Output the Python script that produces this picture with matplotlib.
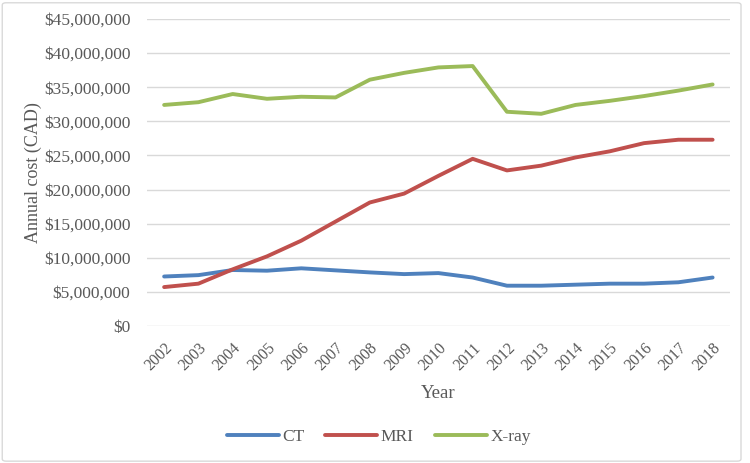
import matplotlib
matplotlib.use("Agg")
from matplotlib import pyplot as plt
from matplotlib.patches import FancyBboxPatch
from matplotlib.ticker import FuncFormatter, MultipleLocator

years = list(range(2002, 2019))
ct = [7.25, 7.45, 8.2, 8.1, 8.45, 8.15, 7.85, 7.6, 7.75, 7.1,
      5.9, 5.9, 6.05, 6.2, 6.2, 6.4, 7.1]
mri = [5.7, 6.2, 8.3, 10.2, 12.5, 15.3, 18.1, 19.4, 22.0, 24.5,
       22.8, 23.5, 24.7, 25.6, 26.8, 27.3, 27.3]
xray = [32.4, 32.8, 34.0, 33.3, 33.6, 33.5, 36.1, 37.1, 37.9, 38.1,
        31.4, 31.1, 32.4, 33.0, 33.7, 34.5, 35.4]
labels = ["CT", "MRI", "X-ray"]
colors = ["#4F81BD", "#C0504D", "#9BBB59"]

text_color = "#595959"
plt.rcParams["font.family"] = ["Liberation Serif", "DejaVu Serif"]

fig = plt.figure(figsize=(7.5, 4.63), dpi=100)
ax = fig.add_axes([0.196, 0.296, 0.777, 0.663])

x = range(len(years))
for series, name, c in zip([ct, mri, xray], labels, colors):
    ax.plot(x, [v * 1e6 for v in series], color=c, lw=2.8, label=name,
            solid_capstyle="round")

ax.set_xlim(-0.5, len(years) - 0.5)
ax.set_ylim(0, 45e6)
ax.yaxis.set_major_locator(MultipleLocator(5e6))
ax.yaxis.set_major_formatter(FuncFormatter(lambda v, p: f"${v:,.0f}"))
ax.set_xticks(list(x))
ax.set_xticklabels([str(y) for y in years], rotation=45, ha="right",
                   rotation_mode="anchor")
ax.grid(axis="y", color="#D9D9D9", lw=1)
ax.set_axisbelow(True)
for s in ax.spines.values():
    s.set_visible(False)
ax.tick_params(length=0, colors=text_color)
ax.tick_params(axis="x", pad=10, labelsize=11.5)
ax.tick_params(axis="y", pad=12, labelsize=12.5)

ax.set_ylabel("Annual cost (CAD)", color=text_color, fontsize=13, labelpad=1)
ax.set_xlabel("Year", color=text_color, fontsize=13.5, labelpad=8)

leg = fig.legend(loc="center", bbox_to_anchor=(0.505, 0.057), ncol=3,
                 frameon=False, fontsize=12.5, handlelength=3.0,
                 handletextpad=0.2, columnspacing=1.2)
for t in leg.get_texts():
    t.set_color(text_color)

fig.patches.append(FancyBboxPatch((0.003, 0.004), 0.985, 0.99,
                                  boxstyle="round,pad=0,rounding_size=0.005",
                                  transform=fig.transFigure, fill=False,
                                  ec="#D9D9D9", lw=1))

fig.savefig("out.png", dpi=100)
